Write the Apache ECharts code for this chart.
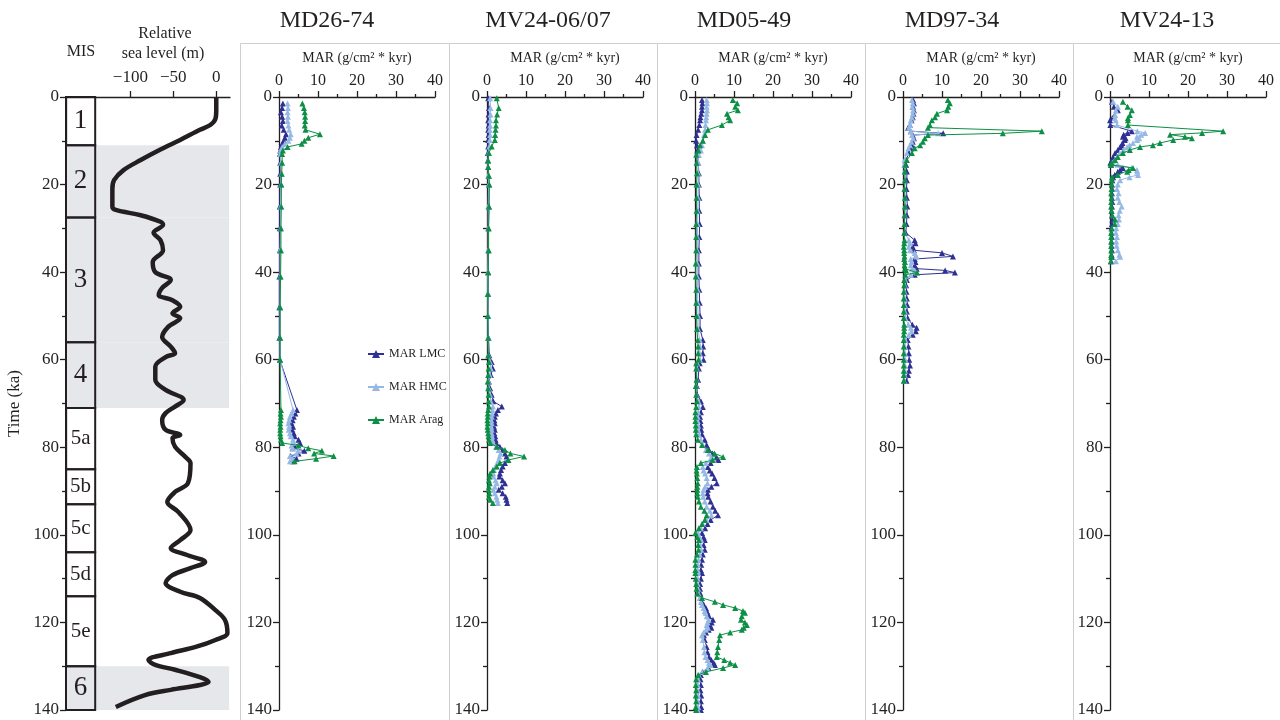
<!DOCTYPE html>
<html>
<head>
<meta charset="utf-8">
<title>MAR records and sea level</title>
<script src="https://cdn.jsdelivr.net/npm/echarts@6/dist/echarts.min.js"></script>
<style>
html, body { margin: 0; padding: 0; background: #fff; }
#main { width: 1280px; height: 720px; }
</style>
</head>
<body>
<div id="main"></div>
<script>
// relative sea level curve (age in ka, level in m)
var seaAge = [0, 3, 5, 6.4, 7.5, 9.8, 12, 14.4, 16.7, 19, 21, 25, 25.8, 27, 28.5, 29.2, 31, 32.7, 35, 37.7,
    40, 41.8, 43.6, 45.2, 46.4, 47.9, 49.4, 50.5, 52.5, 54.8, 57, 58.5, 59.4, 61.6, 64.6, 66.9, 69.2, 70.7,
    72.2, 73.8, 76, 77.2, 77.9, 79.9, 82.2, 83.6, 88.2, 90.2, 92.5, 94.8, 98.9, 101.2, 103, 104.6, 106.2,
    107.6, 109.2, 111, 113, 114.4, 117.2, 119.4, 122.4, 124, 125.6, 127, 128.6, 129.7, 130.8, 132.5, 133.6,
    134.3, 135.4, 136.6, 139.3];
var seaLevel = [0, 0, -1, -7, -19, -42, -65, -88, -108, -119, -121, -121, -117, -88, -65, -62, -73, -65, -62, -74,
    -71, -53, -63, -67, -51, -42, -51, -42, -56, -63, -53, -48, -59, -71, -71, -59, -38, -48,
    -59, -63, -59, -42, -51, -48, -36, -30, -33, -48, -57, -44, -30, -42, -53, -34, -13,
    -30, -51, -59, -42, -19, -1, 10, 13, -1, -24, -53, -79, -71, -48, -19, -9,
    -19, -53, -83, -117];

// marine isotope stages
var misBounds = [0, 11, 27.5, 56, 71, 85, 93, 104, 114, 130, 140];
var misNames = ['1', '2', '3', '4', '5a', '5b', '5c', '5d', '5e', '6'];
var misGlacial = [false, true, true, true, false, false, false, false, false, true];

var coreNames = ['MD26-74', 'MV24-06/07', 'MD05-49', 'MD97-34', 'MV24-13'];
var seriesNames = ['MAR LMC', 'MAR HMC', 'MAR Arag'];
var marTicks = [0, 10, 20, 30, 40];
var seaTicks = [-100, -50, 0];

// MD26-74
var md2674Age = [1.5, 2.5, 3.5, 4.5, 5.5, 6.5, 7.5, 8.5, 9.3, 10, 10.7, 11.4, 12.2, 13, 15, 17.5, 20, 25, 30, 35, 41, 48, 55, 60,
    71.5, 72.3, 73, 73.8, 74.5, 75.3, 76, 76.8, 77.5, 78.3, 79, 79.6, 80.2, 80.8, 81.4, 82, 82.6, 83.2];
var md2674Lmc = [1, 0.8, 0.5, 0.8, 1, 0.7, 1.2, 1.8, 1.5, 1.2, 0.8, 0.5, 0.3, 0.2, 0.3, 0.3, 0.3, 0.2, 0.2, 0.2, 0.1, 0.1, 0.1, 0.2,
    4.6, 4.2, 3.8, 3.5, 3.2, 3.6, 3.4, 3.8, 4, 5, 5.4, 4, 3.5, 6.5, 5, 3, 4.5, 3.5];
var md2674Hmc = [2.2, 2.3, 2.2, 2.3, 2.2, 2.4, 2.6, 3, 2.8, 2.4, 1.5, 0.8, 0.4, 0.3, 0.5, 0.6, 0.5, 0.4, 0.4, 0.3, 0.3, 0.3, 0.3, 0.3,
    3.6, 3.2, 2.8, 2.6, 2.4, 2.6, 2.5, 2.8, 3, 3.6, 3.8, 3.2, 3.5, 5, 4.5, 2.8, 3.5, 2.8];
var md2674Arag = [6, 6.4, 6.6, 6.7, 6.7, 6.6, 6.8, 10.5, 7.5, 6.5, 5.8, 2.2, 1, 0.8, 0.8, 0.7, 0.6, 0.6, 0.5, 0.5, 0.4, 0.3, 0.3, 0.3,
    0.5, 0.4, 0.5, 0.4, 0.3, 0.4, 0.3, 0.3, 0.4, 0.5, 0.8, 5, 7.5, 11, 9, 14, 9.5, 4];

// MV24-06/07
var mv2406Age = [0.3, 2.5, 4, 5.3, 6.5, 7.5, 8.7, 9.8, 11.3, 12.8, 14.5, 16, 18, 20, 25, 30, 35, 40, 45, 50, 55,
    59, 60.5, 62, 63.5, 65, 66.5, 68, 69.5, 70.7, 71.5, 72.3, 73, 73.8, 74.5, 75.3, 76, 76.8, 77.5, 78.3, 79,
    79.9, 80.6, 81.4, 82.1, 82.9, 83.6, 84.4, 85.2, 86, 86.7, 87.5, 88.2, 89, 89.7, 90.5, 91.3, 92, 92.7];
var mv2406Lmc = [0.3, 0.5, 0.4, 0.3, 0.4, 0.3, 0.4, 0.3, 0.3, 0.2, 0.2, 0.3, 0.4, 0.5, 0.5, 0.4, 0.4, 0.3, 0.3, 0.3, 0.4,
    0.6, 1.2, 1.5, 1, 0.5, 0.8, 1.2, 1.6, 3.8, 2.8, 2.3, 2, 1.9, 2, 1.8, 2, 1.9, 2.1, 2.2, 2.4,
    3.3, 4, 4.6, 5, 5.4, 4.6, 4, 3.6, 3.3, 3.2, 4, 4.6, 3.8, 3, 4, 4.8, 5, 5.2];
var mv2406Hmc = [0.8, 0.9, 0.9, 0.8, 0.8, 0.7, 0.8, 0.7, 0.6, 0.4, 0.3, 0.3, 0.3, 0.4, 0.3, 0.3, 0.3, 0.2, 0.2, 0.3, 0.3,
    0.4, 0.8, 1, 0.7, 0.4, 0.5, 0.8, 1, 1.5, 1.4, 1.3, 1.2, 1.1, 1.2, 1.1, 1.2, 1.2, 1.3, 1.4, 1.6,
    2.3, 3, 3.5, 3.2, 3, 2.6, 2.2, 1.8, 1.6, 1.6, 2.2, 2.5, 2, 1.6, 2, 2.4, 2.6, 2.8];
var mv2406Arag = [2.5, 3, 2.6, 2.3, 2.3, 2.2, 2.1, 2, 1.2, 0.5, 0.3, 0.3, 0.5, 0.6, 0.5, 0.4, 0.4, 0.3, 0.2, 0.2, 0.3,
    0.3, 0.5, 0.4, 0.3, 0.2, 0.3, 0.4, 0.4, 0.5, 0.3, 0.2, 0.2, 0.1, 0.2, 0.1, 0.2, 0.3, 0.4, 0.5, 0.8,
    2.5, 4.6, 6, 9.5, 5.5, 3.3, 2.5, 1.5, 0.8, 0.6, 0.5, 0.7, 0.5, 0.4, 0.6, 0.5, 0.8, 1.5];

// MD05-49
var md0549Age = [0.7, 1.4, 2.2, 3.0, 3.8, 4.6, 5.3, 6.4, 7.5, 8.7,
    10, 11, 12.2, 13.2, 15, 17.4, 20, 23, 26, 29,
    32, 35, 38, 41, 44, 47, 50, 53, 55.5, 57,
    58.5, 60, 60.8, 62, 64.6, 66, 68, 69.5, 70.8, 72,
    73, 74, 75, 76, 77, 78.3, 79.5, 80.6, 81.4, 82.2,
    82.9, 83.6, 84.5, 85.3, 86, 87, 88.2, 89, 89.7, 90.5,
    91.3, 92.4, 93.6, 94.5, 95.5, 96.6, 97.5, 98.5, 99.6, 100.5,
    101.2, 102.3, 103.4, 104.5, 105.7, 106.8, 108, 108.7, 110, 111.2,
    112.3, 113.4, 114.4, 115.3, 116, 116.7, 117.4, 117.8, 118.6, 119.4,
    120, 120.6, 121.2, 121.7, 122.3, 122.9, 124, 125.6, 126.8, 127.9,
    128.6, 129.2, 129.7, 130.4, 131.3, 132, 133, 134.3, 135.5, 136.7,
    138, 139.3, 140];
var md0549Lmc = [1.8, 1.9, 1.8, 1.8, 1.6, 1.4, 1.3, 1.1, 0.8, 0.4,
    0.3, 0.5, 0.6, 0.7, 0.8, 1, 1, 1.1, 1.1, 1.2,
    1.1, 1, 1, 1, 1.1, 1.2, 1.3, 1.3, 2, 2.1,
    2, 2.2, 1.2, 1, 0.8, 0.5, 0.6, 1.5, 2, 1.5,
    1.3, 1.4, 1.5, 1.6, 1.8, 2.5, 3, 3.6, 4.5, 5.5,
    6, 4, 3.3, 3.8, 4.4, 5, 5.6, 4.2, 3.3, 3.2,
    3.4, 4, 4.6, 5.2, 5.9, 4, 3.2, 2.6, 1.8, 2.2,
    2.5, 2.2, 2.5, 2, 1.8, 1.6, 1.5, 1.8, 1.5, 1.3,
    1.3, 1.4, 1.6, 1.8, 2.3, 2.8, 3, 3.2, 3.6, 4.6,
    4.3, 3.8, 4.2, 3.5, 2.8, 2.3, 2.5, 3, 3.2, 3.6,
    4.2, 4.8, 5.1, 3.5, 2, 1.5, 1.4, 1.5, 1.4, 1.6,
    1.5, 1.6, 1.5];
var md0549Hmc = [3, 3.1, 3, 3.1, 3, 2.9, 2.8, 2.7, 2.6, 2.3,
    2, 1.8, 1.5, 1, 0.9, 0.8, 0.8, 0.8, 0.7, 0.7,
    0.6, 0.6, 0.6, 0.6, 0.7, 0.7, 0.8, 0.8, 1.2, 1.3,
    1.2, 1.3, 0.6, 0.5, 0.5, 0.3, 0.4, 0.9, 1, 0.8,
    0.7, 0.7, 0.8, 0.8, 1, 1.5, 2, 2.8, 3.6, 4.2,
    4.8, 2.8, 2, 2.2, 2.6, 3, 3.2, 2.6, 2.2, 2,
    2.1, 2.5, 3, 3.8, 4.2, 3, 2, 1.5, 0.8, 1.2,
    1.6, 1.4, 1.6, 1.2, 0.9, 0.8, 0.7, 0.8, 0.7, 0.7,
    0.8, 0.9, 1.2, 1.5, 1.8, 2.2, 2.5, 2.7, 3, 3.5,
    3.2, 3, 3.3, 2.8, 2.2, 1.8, 2, 2.3, 2.4, 2.7,
    3.2, 3.6, 4, 3.2, 1.8, 1, 0.8, 0.7, 0.7, 0.8,
    0.7, 0.8, 0.7];
var md0549Arag = [9.7, 10.8, 10.3, 11, 8.2, 8.6, 9, 6.9, 3.3, 2.6,
    2, 1.3, 0.9, 0.3, 0.4, 0.5, 0.4, 0.4, 0.4, 0.3,
    0.3, 0.3, 0.2, 0.2, 0.3, 0.3, 0.4, 0.5, 0.7, 0.8,
    0.8, 0.9, 0.3, 0.3, 0.4, 0.2, 0.3, 0.5, 0.3, 0.1,
    0.1, 0.1, 0.2, 0.2, 0.3, 0.7, 1.8, 3.3, 5, 7.2,
    4.5, 1.5, 0.5, 0.4, 0.5, 0.6, 0.7, 0.6, 0.6, 0.6,
    0.7, 1, 1.5, 2.4, 3, 2.5, 1.8, 1, 0.1, 0.6,
    1, 0.8, 0.9, 0.5, 0.1, 0.1, 0.1, 0.1, 0.2, 0.3,
    0.4, 0.6, 1.8, 5.1, 7.2, 10.3, 12.3, 12.8, 12, 11.8,
    12.8, 13.3, 12.5, 12, 9, 6.4, 6.2, 5.9, 5.7, 5.6,
    7.5, 9, 10.3, 7.2, 2.8, 0.8, 0.3, 0.2, 0.3, 0.2,
    0.3, 0.2, 0.3];

// MD97-34
var md9734Age = [0.7, 1.4, 2.2, 3.0, 3.8, 4.6, 5.3, 6.4, 7.0, 7.8,
    8.3, 8.7, 9.4, 10.2, 11, 11.7, 12.8, 14.4, 15.5, 17,
    19, 21, 23, 25, 27, 29, 31, 32.7, 33.4, 34.2,
    35, 35.6, 36.4, 37, 37.7, 38.4, 39.2, 39.6, 40.1, 40.6,
    41.8, 43, 44.5, 46, 47.5, 49, 50.5, 52, 52.7, 53.5,
    54.3, 55.5, 57, 58.5, 60, 61.3, 62.5, 63.5, 64.8];
var md9734Lmc = [2.6, 2.8, 2.6, 2.8, 2.7, 2.5, 2.2, 1.8, 1.3, 2,
    10.3, 2.5, 2.8, 2.5, 2.3, 2, 1.5, 0.8, 0.8, 1,
    1, 0.9, 1, 1.1, 1, 0.9, 0.7, 3, 3.2, 2.5,
    2.8, 10, 12.8, 3, 3.2, 3, 3.5, 10.8, 13.3, 3,
    1, 0.8, 0.9, 1, 1.1, 1, 1.2, 2.4, 3.5, 3.3,
    2.5, 1.2, 1.4, 1.5, 1.6, 1.8, 1.5, 1.3, 0.9];
var md9734Hmc = [2.3, 2.5, 2.4, 2.6, 2.5, 2.3, 2, 1.8, 1.5, 2,
    9, 2.3, 2.6, 2.2, 1.8, 1.4, 1, 0.4, 0.3, 0.4,
    0.5, 0.4, 0.5, 0.5, 0.5, 0.4, 0.4, 1.5, 1.8, 1.5,
    1.8, 3, 3.5, 2, 2.2, 2, 2.3, 3, 3.5, 2,
    0.6, 0.5, 0.4, 0.5, 0.5, 0.5, 0.6, 1.4, 2, 2.2,
    1.5, 0.6, 0.5, 0.5, 0.6, 0.5, 0.5, 0.4, 0.3];
var md9734Arag = [11.5, 12, 11.6, 11.3, 8.7, 8.2, 7.4, 6.9, 6.4, 35.6,
    25.6, 6.4, 5.6, 5.1, 4.4, 3, 2.3, 1, 0.6, 0.5,
    0.5, 0.4, 0.5, 0.5, 0.4, 0.4, 0.3, 0.4, 0.3, 0.2,
    0.3, 0.3, 0.4, 0.3, 0.5, 0.4, 0.5, 0.8, 3.6, 0.6,
    0.3, 0.3, 0.2, 0.2, 0.2, 0.2, 0.2, 0.3, 0.3, 0.3,
    0.2, 0.2, 0.2, 0.2, 0.2, 0.2, 0.2, 0.2, 0.2];

// MV24-13
var mv2413Age = [1.1, 2.2, 3.0, 4.1, 4.8, 5.3, 6.4, 7.8, 8.2, 8.6,
    9.1, 9.4, 9.8, 10.5, 11, 11.4, 12.1, 12.8, 13.7, 14.4,
    15, 15.5, 16.2, 16.7, 17.1, 17.8, 18.3, 19, 20, 21,
    22, 23, 24, 25, 26, 27, 28, 29, 30, 31,
    32, 33, 34, 35, 36, 36.5, 37.5];
var mv2413Lmc = [0.5, 1, 2, 1.2, 0.6, 0, 0.1, 5.6, 4.5, 3.5,
    3.3, 4, 3.8, 3.2, 3, 2.6, 2, 1.3, 0.8, 0.5,
    0.1, 0.3, 3.3, 2.6, 2, 1.2, 0.8, 0.6, 0.5, 0.6,
    0.5, 0.5, 0.6, 0.5, 0.4, 0.5, 0.6, 0.5, 0.4, 0.4,
    0.5, 0.4, 0.4, 0.5, 0.4, 0.5, 0.3];
var mv2413Hmc = [0.8, 2, 1.5, 1.3, 1.2, 1.5, 1.8, 7, 9, 8,
    6.9, 7.5, 7, 5.9, 5, 4.4, 3.5, 2.5, 1.8, 1.2,
    0.6, 2, 5.5, 6.9, 7, 7.2, 5, 2.6, 2, 1.8,
    2.2, 2, 2.4, 3, 2.5, 2.2, 2.3, 2, 1.6, 1.5,
    1.8, 1.6, 1.7, 2, 2.4, 2.6, 1.5];
var mv2413Arag = [3.3, 4.5, 5.6, 5.1, 4.6, 4.6, 4.6, 29, 23.6, 15.4,
    19.2, 21, 16.2, 12.8, 11, 7.7, 5.1, 3.3, 2, 1.3,
    0.4, 0.2, 5.9, 4.8, 4.4, 2, 0.5, 0.4, 0.4, 0.4,
    0.3, 0.4, 0.3, 0.3, 0.4, 0.6, 1.3, 1.2, 0.4, 0.3,
    0.3, 0.3, 0.3, 0.3, 0.3, 0.3, 0.2];

var cores = [
    [md2674Age, md2674Lmc, md2674Hmc, md2674Arag],
    [mv2406Age, mv2406Lmc, mv2406Hmc, mv2406Arag],
    [md0549Age, md0549Lmc, md0549Hmc, md0549Arag],
    [md9734Age, md9734Lmc, md9734Hmc, md9734Arag],
    [mv2413Age, mv2413Lmc, mv2413Hmc, mv2413Arag]
];

var FONT = "'Liberation Serif', 'Times New Roman', serif";
var INK = '#231f20';
var colors = ['#2e3192', '#95b9e4', '#0d8f45'];
var panelLeft = [279, 487, 695, 903, 1110];
var frameLeft = [240, 449, 657, 865, 1073];
var titleX = [327, 548, 744, 952, 1167];

function zip(vals, ages) {
    return ages.map(function (a, i) { return [vals[i], a]; });
}

function timeAxis(idx, name) {
    return {
        gridIndex: idx, type: 'value', inverse: true, min: 0, max: 140, interval: 20,
        name: name || '', nameLocation: 'middle', nameGap: 43, nameRotate: 90,
        nameTextStyle: { fontFamily: FONT, fontSize: 17, color: INK },
        axisLine: { show: true, onZero: false, lineStyle: { color: INK, width: 1.3 } },
        axisTick: { show: true, length: 6, lineStyle: { color: INK, width: 1.3 } },
        minorTick: { show: true, splitNumber: 2, length: 4, lineStyle: { color: INK, width: 1.3 } },
        axisLabel: { fontFamily: FONT, fontSize: 17, color: INK, margin: 7 },
        splitLine: { show: false }, minorSplitLine: { show: false }
    };
}

function build() {
    var grids = [{ left: 66, top: 97, width: 164, height: 613, outerBoundsMode: 'none' }];
    var xAxes = [{
        gridIndex: 0, type: 'value', position: 'top', min: -175, max: 16,
        axisLine: { show: true, onZero: false, lineStyle: { color: INK, width: 1.3 } },
        axisTick: { show: true, length: 6, customValues: seaTicks, lineStyle: { color: INK, width: 1.3 } },
        axisLabel: {
            customValues: seaTicks, fontFamily: FONT, fontSize: 17, color: INK, margin: 11,
            formatter: function (v) { return String(v).replace('-', '\u2212'); }
        },
        splitLine: { show: false }
    }];
    var yAxes = [timeAxis(0, 'Time (ka)')];

    // MIS boxes and glacial shading
    var areas = [];
    var boxes = [];
    for (var i = 0; i < misNames.length; i++) {
        if (misGlacial[i]) {
            areas.push([{ xAxis: -175, yAxis: misBounds[i], itemStyle: { color: '#e6e7eb' }, label: { show: false } },
                { xAxis: 15, yAxis: misBounds[i + 1] }]);
        }
        boxes.push([{
            name: misNames[i], xAxis: -175, yAxis: misBounds[i],
            itemStyle: { color: 'rgba(0,0,0,0)', borderColor: INK, borderWidth: 2 },
            label: { show: true, position: 'inside', fontFamily: FONT, color: INK, fontSize: misNames[i].length > 1 ? 21 : 27 }
        }, { xAxis: -141, yAxis: misBounds[i + 1] }]);
    }

    var series = [{
        type: 'line', xAxisIndex: 0, yAxisIndex: 0, z: 3,
        data: zip(seaLevel, seaAge), smooth: 0.35, showSymbol: false,
        lineStyle: { color: INK, width: 4.5 },
        markArea: { silent: true, data: areas.concat(boxes) }
    }];

    for (var p = 0; p < cores.length; p++) {
        grids.push({ left: panelLeft[p], top: 97, width: 156, height: 613, outerBoundsMode: 'none' });
        xAxes.push({
            gridIndex: p + 1, type: 'value', position: 'top', min: 0, max: 40, interval: 10,
            name: 'MAR (g/cm\u00b2 * kyr)', nameLocation: 'middle', nameGap: 32,
            nameTextStyle: { fontFamily: FONT, fontSize: 14, color: INK },
            axisLine: { show: true, onZero: false, lineStyle: { color: INK, width: 1.3 } },
            axisTick: { show: true, length: 6, lineStyle: { color: INK, width: 1.3 } },
            minorTick: { show: true, splitNumber: 2, length: 3, lineStyle: { color: INK, width: 1.3 } },
            axisLabel: { fontFamily: FONT, fontSize: 16, color: INK, margin: 8 },
            splitLine: { show: false }, minorSplitLine: { show: false }
        });
        yAxes.push(timeAxis(p + 1));
        var c = cores[p];
        for (var s = 0; s < 3; s++) {
            series.push({
                name: seriesNames[s], type: 'line', xAxisIndex: p + 1, yAxisIndex: p + 1,
                data: zip(c[s + 1], c[0]), symbol: 'triangle', symbolSize: 6,
                lineStyle: { color: colors[s], width: 1 }, itemStyle: { color: colors[s] },
                z: 3 + s
            });
        }
    }

    var graphics = [];
    for (var f = 0; f < frameLeft.length; f++) {
        graphics.push({
            type: 'rect', silent: true, z: -1,
            shape: { x: frameLeft[f] + 0.5, y: 43.5, width: (f < 4 ? frameLeft[f + 1] : 1290) - frameLeft[f], height: 700 },
            style: { fill: 'none', stroke: '#cfcfcf', lineWidth: 1 }
        });
        graphics.push({
            type: 'text', silent: true,
            style: { text: coreNames[f], x: titleX[f], y: 21, textAlign: 'center', textVerticalAlign: 'middle',
                font: '24px ' + FONT, fill: INK }
        });
    }
    graphics.push({ type: 'text', silent: true, style: { text: 'MIS', x: 81, y: 52, textAlign: 'center', textVerticalAlign: 'middle', font: '16px ' + FONT, fill: INK } });
    graphics.push({ type: 'text', silent: true, style: { text: 'Relative', x: 165, y: 34, textAlign: 'center', textVerticalAlign: 'middle', font: '16px ' + FONT, fill: INK } });
    graphics.push({ type: 'text', silent: true, style: { text: 'sea level (m)', x: 163, y: 54, textAlign: 'center', textVerticalAlign: 'middle', font: '16px ' + FONT, fill: INK } });

    return {
        animation: false,
        backgroundColor: '#fff',
        grid: grids,
        xAxis: xAxes,
        yAxis: yAxes,
        legend: {
            data: seriesNames, orient: 'vertical', left: 362, top: 343, itemGap: 21,
            itemWidth: 16, itemHeight: 10,
            textStyle: { fontFamily: FONT, fontSize: 12, color: INK }
        },
        graphic: graphics,
        series: series
    };
}

var myChart = echarts.init(document.getElementById('main'));
myChart.setOption(build());
</script>
</body>
</html>
